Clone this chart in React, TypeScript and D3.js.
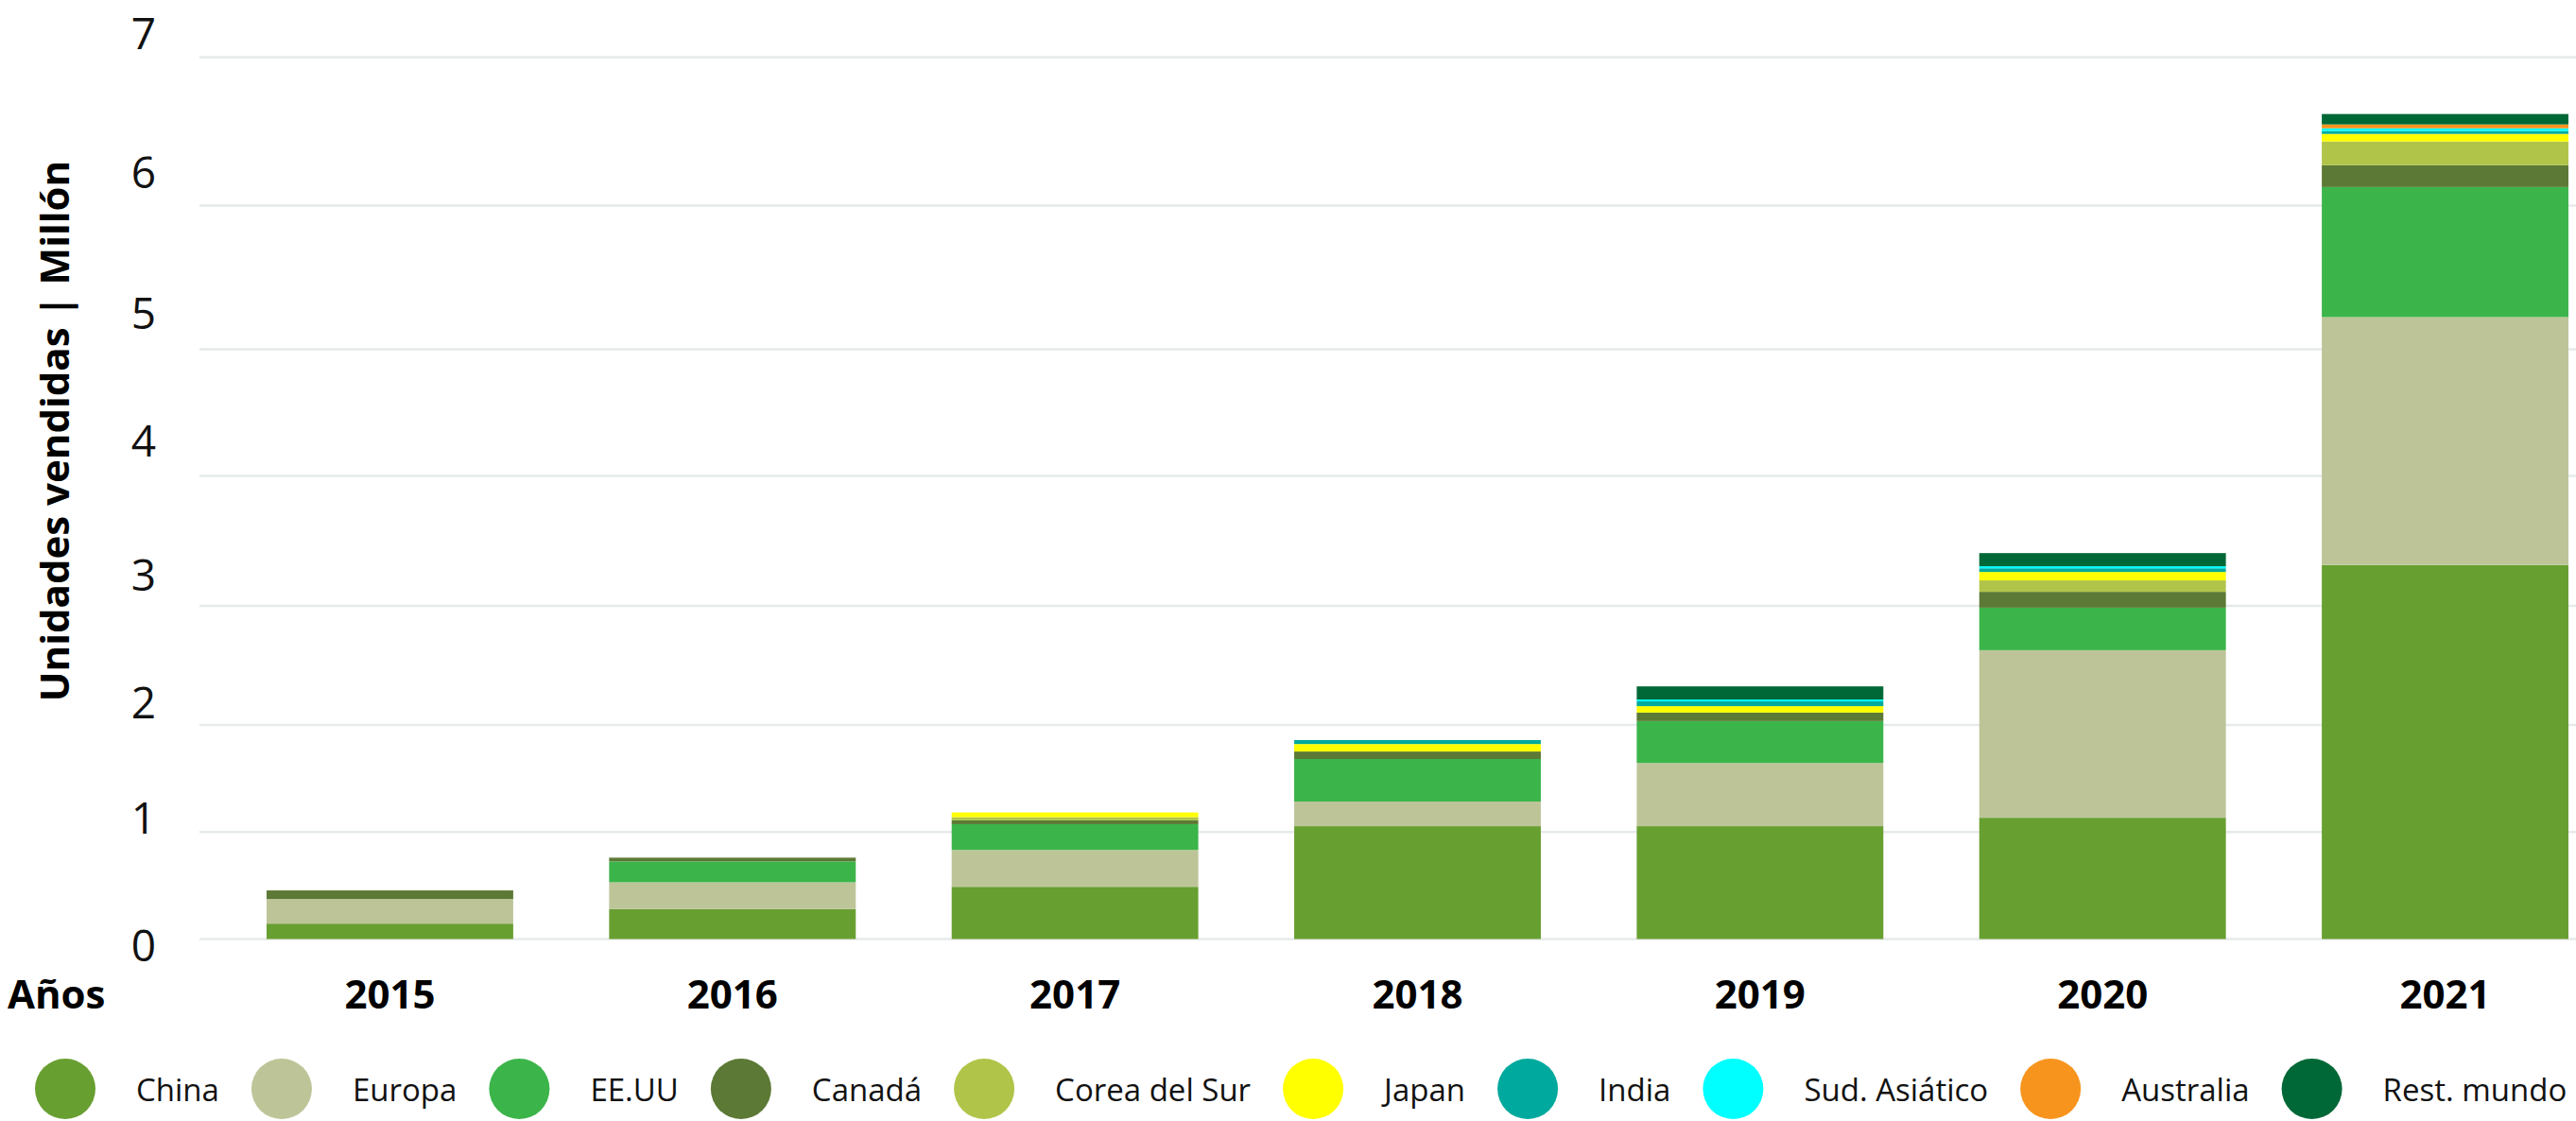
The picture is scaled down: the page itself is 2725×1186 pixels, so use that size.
import * as d3 from 'd3';
import { useEffect, useRef } from 'react';

const years = ['2015', '2016', '2017', '2018', '2019', '2020', '2021'];

const seriesNames = [
  'China',
  'Europa',
  'EE.UU',
  'Canadá',
  'Corea del Sur',
  'Japan',
  'India',
  'Sud. Asiático',
  'Australia',
  'Rest. mundo',
];

const seriesColors = [
  '#689f31',
  '#bdc598',
  '#3bb54a',
  '#5c7935',
  '#b1c44a',
  '#ffff00',
  '#00a99d',
  '#00ffff',
  '#f7941d',
  '#006837',
];

// millones de unidades por año
const china = [0.144, 0.28, 0.488, 1.054, 1.054, 1.133, 3.315];
const europa = [0.23, 0.25, 0.344, 0.23, 0.591, 1.495, 1.909];
const eeuu = [0, 0.195, 0.241, 0.398, 0.388, 0.357, 0.901];
const canada = [0.08, 0.035, 0.036, 0.07, 0.071, 0.123, 0.147];
const corea = [0, 0, 0.029, 0, 0, 0.088, 0.16];
const japan = [0, 0, 0.044, 0.07, 0.054, 0.065, 0.051];
const india = [0, 0, 0, 0.037, 0.04, 0.028, 0.019];
const sudAsiatico = [0, 0, 0, 0, 0.016, 0.016, 0.019];
const australia = [0, 0, 0, 0, 0, 0, 0.026];
const restoMundo = [0, 0, 0, 0, 0.11, 0.101, 0.07];

const seriesValues = [china, europa, eeuu, canada, corea, japan, india, sudAsiatico, australia, restoMundo];

const yTicks = [0, 1, 2, 3, 4, 5, 6, 7];

const W = 2725;
const H = 1186;
const FONT = '"Open Sans", "Noto Sans", sans-serif';

const App = () => {
  const chartRef = useRef(null);

  useEffect(() => {
    document.body.style.margin = '0';
    const svg = d3.select(chartRef.current);
    svg.selectAll('*').remove();

    // the original axis is not evenly spaced, so use a polylinear scale
    const y = d3
      .scaleLinear()
      .domain(yTicks)
      .range([993.5, 880.2, 767, 641, 503.5, 369.5, 217.5, 60.5]);
    const yLabel = d3
      .scaleLinear()
      .domain(yTicks)
      .range([999, 864, 742, 607, 465, 330, 181, 34]);

    const x = d3
      .scaleBand()
      .domain(years)
      .range([211, 2788])
      .paddingInner(0.28)
      .paddingOuter(0.196);

    const rows = years.map((yr, i) => {
      const row = { year: yr };
      seriesNames.forEach((name, k) => {
        row[name] = seriesValues[k][i];
      });
      return row;
    });
    const stacked = d3.stack().keys(seriesNames)(rows);

    // grid
    svg
      .append('g')
      .selectAll('line')
      .data(yTicks)
      .enter()
      .append('line')
      .attr('x1', 211)
      .attr('x2', W)
      .attr('y1', (d) => y(d))
      .attr('y2', (d) => y(d))
      .style('stroke', '#e6eaea')
      .style('stroke-width', 2.5);

    svg
      .append('g')
      .selectAll('text')
      .data(yTicks)
      .enter()
      .append('text')
      .attr('x', 152)
      .attr('y', (d) => yLabel(d))
      .attr('text-anchor', 'middle')
      .attr('dominant-baseline', 'central')
      .style('font-family', FONT)
      .style('font-size', '46px')
      .style('fill', '#111')
      .text((d) => d);

    // bars
    svg
      .append('g')
      .selectAll('g')
      .data(stacked)
      .enter()
      .append('g')
      .style('fill', (d, i) => seriesColors[i])
      .selectAll('rect')
      .data((d) => d)
      .enter()
      .append('rect')
      .attr('x', (d) => x(d.data.year))
      .attr('y', (d) => y(d[1]))
      .attr('width', x.bandwidth())
      .attr('height', (d) => Math.max(0, y(d[0]) - y(d[1])));

    // x labels
    svg
      .append('g')
      .selectAll('text')
      .data(years)
      .enter()
      .append('text')
      .attr('x', (d) => x(d) + x.bandwidth() / 2)
      .attr('y', 1067)
      .attr('text-anchor', 'middle')
      .style('font-family', FONT)
      .style('font-weight', 700)
      .style('font-size', '42px')
      .style('fill', '#000')
      .text((d) => d);

    svg
      .append('text')
      .attr('x', 8)
      .attr('y', 1067)
      .style('font-family', FONT)
      .style('font-weight', 700)
      .style('font-size', '42px')
      .style('fill', '#000')
      .text('Años');

    svg
      .append('text')
      .attr('transform', 'translate(73, 456) rotate(-90)')
      .attr('text-anchor', 'middle')
      .style('font-family', FONT)
      .style('font-weight', 700)
      .style('font-size', '42px')
      .style('fill', '#000')
      .text('Unidades vendidas | Millón');

    // legend, laid out one after another
    const legend = svg.append('g');
    let cx = 69;
    seriesNames.forEach((name, i) => {
      legend
        .append('circle')
        .attr('cx', cx)
        .attr('cy', 1152)
        .attr('r', 32)
        .style('fill', seriesColors[i]);
      const t = legend
        .append('text')
        .attr('x', cx + 75)
        .attr('y', 1152)
        .attr('dominant-baseline', 'central')
        .style('font-family', FONT)
        .style('font-size', '33px')
        .style('fill', '#111')
        .text(name);
      const len = t.node().getComputedTextLength();
      cx = cx + 75 + len + 66;
    });
  }, []);

  return (
    <div style={{ position: 'absolute', left: 0, top: 0 }}>
      <svg ref={chartRef} width={W} height={H} style={{ display: 'block', background: '#fff' }}></svg>
    </div>
  );
};

export default App;
